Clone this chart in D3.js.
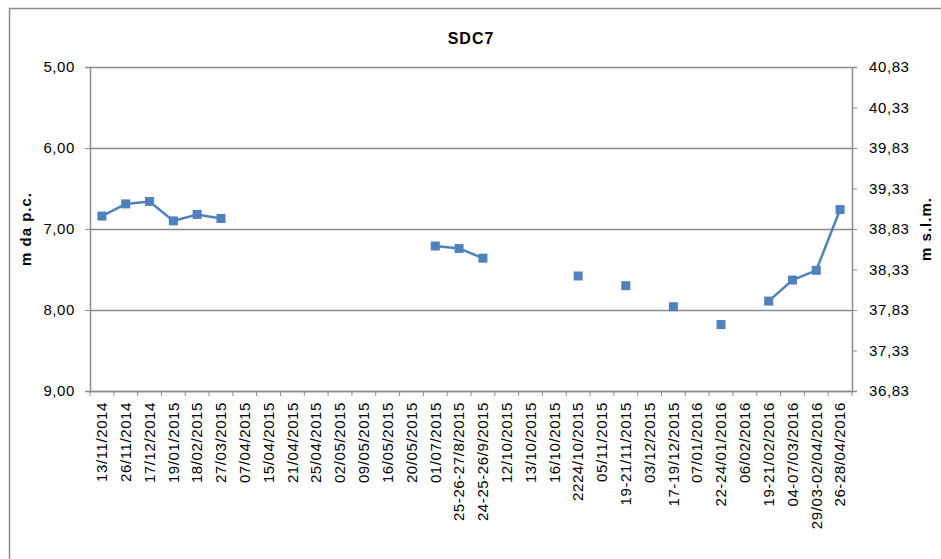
<!DOCTYPE html>
<html>
<head>
<meta charset="utf-8">
<script src="https://cdn.jsdelivr.net/npm/d3@7"></script>
<style>
    body { margin: 0; background: #fff; }
    svg text { font-family: "Liberation Sans", Arial, sans-serif; fill: #000; }
</style>
</head>
<body>
<div id="chart"></div>
<script>
// dates of the measures (x axis)
var dates = ["13/11/2014", "26/11/2014", "17/12/2014", "19/01/2015", "18/02/2015", "27/03/2015",
    "07/04/2015", "15/04/2015", "21/04/2015", "25/04/2015", "02/05/2015", "09/05/2015",
    "16/05/2015", "20/05/2015", "01/07/2015", "25-26-27/8/2015", "24-25-26/9/2015",
    "12/10/2015", "13/10/2015", "16/10/2015", "2224/10/2015", "05/11/2015", "19-21/11/2015",
    "03/12/2015", "17-19/12/2015", "07/01/2016", "22-24/01/2016", "06/02/2016",
    "19-21/02/2016", "04-07/03/2016", "29/03-02/04/2016", "26-28/04/2016"];

// depth in m da p.c. (null = no reading)
var depth = [6.84, 6.69, 6.66, 6.90, 6.82, 6.87,
    null, null, null, null, null, null,
    null, null, 7.21, 7.24, 7.36,
    null, null, null, 7.58, null, 7.70,
    null, 7.96, null, 8.18, null,
    7.89, 7.63, 7.51, 6.76];

var leftTicks = [5, 6, 7, 8, 9];
var rightTicks = [36.83, 37.33, 37.83, 38.33, 38.83, 39.33, 39.83, 40.33, 40.83];

var width = 941, height = 559;
var margin = {top: 67, left: 90, right: 89, bottom: 168};

var svg = d3.select("#chart").append("svg")
    .attr("width", width)
    .attr("height", height);

// outer frame
svg.append("rect")
    .attr("x", 9.5)
    .attr("y", 8.5)
    .attr("width", 1000)
    .attr("height", 1000)
    .attr("fill", "none")
    .attr("stroke", "#8c8c8c")
    .attr("stroke-width", 1.5);

var x = d3.scaleBand()
    .domain(dates)
    .range([margin.left, width - margin.right]);

var y = d3.scaleLinear()
    .domain([5, 9])
    .range([margin.top, height - margin.bottom]);

var y2 = d3.scaleLinear()
    .domain([40.83, 36.83])
    .range([margin.top, height - margin.bottom]);

var fmt = function (d) { return d3.format(".2f")(d).replace(".", ","); };

// gridlines
svg.append("g")
    .selectAll("line")
    .data(leftTicks)
    .enter().append("line")
    .attr("x1", margin.left)
    .attr("x2", width - margin.right)
    .attr("y1", function (d) { return Math.round(y(d)) + 0.5; })
    .attr("y2", function (d) { return Math.round(y(d)) + 0.5; })
    .attr("stroke", "#8c8c8c")
    .attr("stroke-width", 1.5);

// left axis
var leftAxis = svg.append("g")
    .attr("transform", "translate(" + margin.left + ",0)")
    .call(d3.axisLeft(y).tickValues(leftTicks).tickFormat(fmt).tickSize(5).tickPadding(10));

// right axis
var rightAxis = svg.append("g")
    .attr("transform", "translate(" + (width - margin.right) + ",0)")
    .call(d3.axisRight(y2).tickValues(rightTicks).tickFormat(fmt).tickSize(5).tickPadding(12));

// bottom axis
var bottomAxis = svg.append("g")
    .attr("transform", "translate(0," + (height - margin.bottom) + ")")
    .call(d3.axisBottom(x).tickSize(0).tickPadding(0));

bottomAxis.selectAll("text")
    .attr("transform", "rotate(-90)")
    .attr("x", -11)
    .attr("y", 0)
    .attr("dy", "0.35em")
    .style("text-anchor", "end");

// category separators on x axis
bottomAxis.append("g")
    .selectAll("line")
    .data(d3.range(dates.length + 1))
    .enter().append("line")
    .attr("x1", function (i) { return x.range()[0] + i * x.step(); })
    .attr("x2", function (i) { return x.range()[0] + i * x.step(); })
    .attr("y1", 0)
    .attr("y2", 5)
    .attr("stroke", "#8c8c8c");

[leftAxis, rightAxis, bottomAxis].forEach(function (a) {
    a.select(".domain").attr("stroke", "#8c8c8c").attr("stroke-width", 1.5);
    a.selectAll(".tick line").attr("stroke", "#8c8c8c");
    a.selectAll("text")
        .style("font-size", "15px")
        .style("letter-spacing", "0.6px")
        .attr("fill", "#000");
});

// line with gaps
var line = d3.line()
    .defined(function (d) { return d !== null; })
    .x(function (d, i) { return x(dates[i]) + x.bandwidth() / 2; })
    .y(function (d) { return y(d); });

svg.append("path")
    .datum(depth)
    .attr("fill", "none")
    .attr("stroke", "#4f81bd")
    .attr("stroke-width", 2.5)
    .attr("d", line);

svg.append("g")
    .selectAll("rect")
    .data(depth.map(function (d, i) { return {v: d, date: dates[i]}; })
        .filter(function (d) { return d.v !== null; }))
    .enter().append("rect")
    .attr("x", function (d) { return x(d.date) + x.bandwidth() / 2 - 4.5; })
    .attr("y", function (d) { return y(d.v) - 4.5; })
    .attr("width", 9)
    .attr("height", 9)
    .attr("fill", "#4f81bd");

// title and axis titles
svg.append("text")
    .attr("x", 471)
    .attr("y", 44)
    .attr("text-anchor", "middle")
    .style("font-size", "16px")
    .style("font-weight", "bold")
    .style("letter-spacing", "1px")
    .text("SDC7");

svg.append("text")
    .attr("transform", "translate(31," + y(7) + ") rotate(-90)")
    .attr("text-anchor", "middle")
    .style("font-size", "15px")
    .style("font-weight", "bold")
    .style("letter-spacing", "1px")
    .text("m da p.c.");

svg.append("text")
    .attr("transform", "translate(931," + y(7) + ") rotate(-90)")
    .attr("text-anchor", "middle")
    .style("font-size", "15px")
    .style("font-weight", "bold")
    .style("letter-spacing", "1px")
    .text("m s.l.m.");
</script>
</body>
</html>
